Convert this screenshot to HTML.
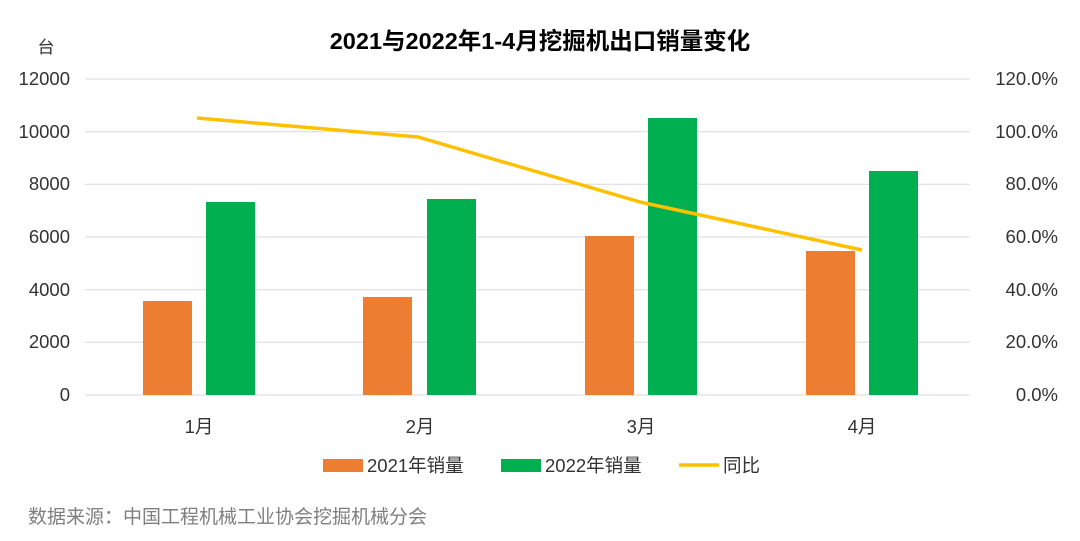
<!DOCTYPE html>
<html><head><meta charset="utf-8"><style>
body{margin:0;background:#fff;}
svg{display:block;font-family:"Liberation Sans","Noto Sans CJK SC",sans-serif;}
</style></head><body>
<svg width="1080" height="541" viewBox="0 0 1080 541" xmlns="http://www.w3.org/2000/svg">
<rect x="0" y="0" width="1080" height="541" fill="#fff"/>
<text x="540" y="49" text-anchor="middle" font-size="23.5" font-weight="bold" fill="#000">2021与2022年1-4月挖掘机出口销量变化</text>
<text x="46" y="53" text-anchor="middle" font-size="17" fill="#333">台</text>
<g stroke="#d9d9d9" stroke-width="1">
<line x1="85" x2="970" y1="79" y2="79"/><line x1="85" x2="970" y1="131.7" y2="131.7"/>
<line x1="85" x2="970" y1="184.3" y2="184.3"/><line x1="85" x2="970" y1="237" y2="237"/>
<line x1="85" x2="970" y1="289.7" y2="289.7"/><line x1="85" x2="970" y1="342.3" y2="342.3"/>
<line x1="85" x2="970" y1="395" y2="395"/>
</g>
<g font-size="18.5" fill="#333" text-anchor="end">
<text x="70" y="85">12000</text><text x="70" y="138">10000</text><text x="70" y="190">8000</text>
<text x="70" y="243">6000</text><text x="70" y="296">4000</text><text x="70" y="348">2000</text><text x="70" y="401">0</text>
</g>
<g font-size="18.5" fill="#333" text-anchor="end">
<text x="1058" y="85">120.0%</text><text x="1058" y="138">100.0%</text><text x="1058" y="190">80.0%</text>
<text x="1058" y="243">60.0%</text><text x="1058" y="296">40.0%</text><text x="1058" y="348">20.0%</text><text x="1058" y="401">0.0%</text>
</g>
<g fill="#ED7D31">
<rect x="143" y="301" width="49" height="94"/><rect x="363" y="297" width="49" height="98"/>
<rect x="585" y="236" width="49" height="159"/><rect x="806" y="251" width="49" height="144"/>
</g>
<g fill="#00B050">
<rect x="206" y="202" width="49" height="193"/><rect x="427" y="199" width="49" height="196"/>
<rect x="648" y="118" width="49" height="277"/><rect x="869" y="171" width="49" height="224"/>
</g>
<polyline points="197,118 418,137 640,202 862,250" fill="none" stroke="#FFC000" stroke-width="3.5"/>
<g font-size="18.5" fill="#333" text-anchor="middle">
<text x="199" y="433">1月</text><text x="420" y="433">2月</text><text x="641" y="433">3月</text><text x="862" y="433">4月</text>
</g>
<rect x="323" y="459" width="40" height="13" fill="#ED7D31"/>
<text x="367" y="472" font-size="18.5" fill="#333">2021年销量</text>
<rect x="501" y="459" width="40" height="13" fill="#00B050"/>
<text x="545" y="472" font-size="18.5" fill="#333">2022年销量</text>
<line x1="679" x2="719" y1="465" y2="465" stroke="#FFC000" stroke-width="3.5"/>
<text x="723" y="472" font-size="18.5" fill="#333">同比</text>
<text x="28" y="523" font-size="19" fill="#7f7f7f">数据来源：中国工程机械工业协会挖掘机械分会</text>
</svg>
</body></html>
